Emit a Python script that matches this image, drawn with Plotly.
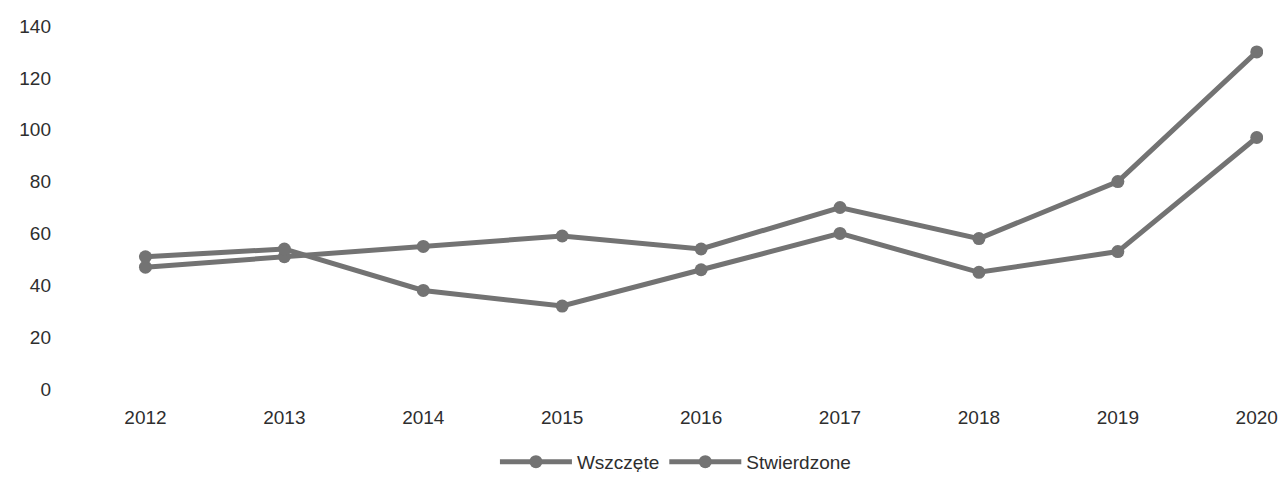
import plotly.graph_objects as go

years = [2012, 2013, 2014, 2015, 2016, 2017, 2018, 2019, 2020]
wszczete = [47, 51, 55, 59, 54, 70, 58, 80, 130]
stwierdzone = [51, 54, 38, 32, 46, 60, 45, 53, 97]
y_ticks = [0, 20, 40, 60, 80, 100, 120, 140]

line_col = "#737373"
fig = go.Figure()
fig.add_trace(go.Scatter(x=years, y=wszczete, name="Wszczęte", mode="lines+markers",
                         line=dict(color=line_col, width=5),
                         marker=dict(color=line_col, size=13, symbol="circle")))
fig.add_trace(go.Scatter(x=years, y=stwierdzone, name="Stwierdzone", mode="lines+markers",
                         line=dict(color=line_col, width=5),
                         marker=dict(color=line_col, size=13, symbol="circle")))

fig.update_layout(
    width=1270, height=464,
    margin=dict(l=68, r=15, t=18, b=83, autoexpand=False),
    paper_bgcolor="white", plot_bgcolor="white",
    font=dict(family="Liberation Sans, Arial, sans-serif", size=19, color="#2e2e2e"),
    showlegend=True,
    legend=dict(orientation="h", x=0.505, xanchor="center", xref="paper",
                y=0.022, yanchor="middle", yref="container",
                font=dict(size=19), itemwidth=72),
    xaxis=dict(range=[2011.5, 2020.045], tickmode="array", tickvals=years,
               ticktext=[str(y) for y in years], showgrid=False, zeroline=False,
               showline=False, ticks="", ticklabelstandoff=15, automargin=False),
    yaxis=dict(range=[0, 140], tickmode="array", tickvals=y_ticks, showgrid=False,
               zeroline=False, showline=False, ticks="", ticklabelstandoff=24,
               automargin=False),
)

fig.write_html("out.html")
